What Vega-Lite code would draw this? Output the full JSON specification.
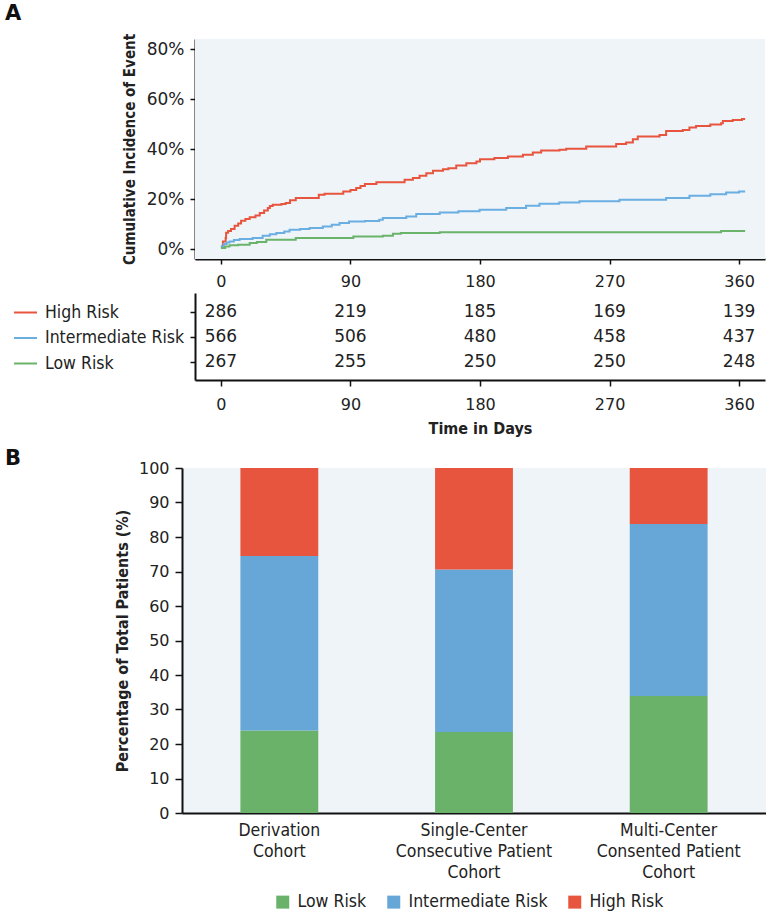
{
  "$schema": "https://vega.github.io/schema/vega-lite/v6.json",
  "padding": {"left": 5, "top": 3, "right": 0, "bottom": 0},
  "background": "white",
  "config": {
    "view": {"stroke": null},
    "axis": {"domainColor": "#111", "domainWidth": 2, "tickColor": "#111", "tickWidth": 1.5, "labelColor": "#222", "titleColor": "#222", "grid": false, "labelFont": "DejaVu Sans", "titleFont": "DejaVu Sans Condensed"},
    "legend": {"labelColor": "#222", "labelFont": "DejaVu Sans Condensed"},
    "title": {"color": "#111", "font": "DejaVu Sans", "fontWeight": "bold", "fontSize": 21}
  },
  "datasets": {
    "curves": [
      {"risk": "High Risk", "day": 0, "pct": 1.0}, {"risk": "High Risk", "day": 1.4, "pct": 3.0}, {"risk": "High Risk", "day": 3.3, "pct": 4.4}, {"risk": "High Risk", "day": 3.6, "pct": 6.5}, {"risk": "High Risk", "day": 5, "pct": 7.2}, {"risk": "High Risk", "day": 7, "pct": 8.0}, {"risk": "High Risk", "day": 9.5, "pct": 9.3}, {"risk": "High Risk", "day": 12, "pct": 10.2}, {"risk": "High Risk", "day": 14, "pct": 11.3}, {"risk": "High Risk", "day": 17, "pct": 12.0}, {"risk": "High Risk", "day": 20, "pct": 12.7}, {"risk": "High Risk", "day": 24, "pct": 13.4}, {"risk": "High Risk", "day": 27, "pct": 14.4}, {"risk": "High Risk", "day": 30, "pct": 15.4}, {"risk": "High Risk", "day": 32.6, "pct": 16.4}, {"risk": "High Risk", "day": 34, "pct": 17.2}, {"risk": "High Risk", "day": 36, "pct": 17.7}, {"risk": "High Risk", "day": 42, "pct": 18.0}, {"risk": "High Risk", "day": 45, "pct": 18.4}, {"risk": "High Risk", "day": 48, "pct": 19.5}, {"risk": "High Risk", "day": 52, "pct": 20.4}, {"risk": "High Risk", "day": 68, "pct": 21.7}, {"risk": "High Risk", "day": 72, "pct": 22.1}, {"risk": "High Risk", "day": 85, "pct": 23.0}, {"risk": "High Risk", "day": 90, "pct": 23.6}, {"risk": "High Risk", "day": 94, "pct": 24.4}, {"risk": "High Risk", "day": 97, "pct": 25.2}, {"risk": "High Risk", "day": 100, "pct": 26.0}, {"risk": "High Risk", "day": 108, "pct": 26.7}, {"risk": "High Risk", "day": 127.6, "pct": 27.7}, {"risk": "High Risk", "day": 133.4, "pct": 28.4}, {"risk": "High Risk", "day": 138, "pct": 29.3}, {"risk": "High Risk", "day": 142.7, "pct": 30.3}, {"risk": "High Risk", "day": 147.3, "pct": 31.3}, {"risk": "High Risk", "day": 154.3, "pct": 31.9}, {"risk": "High Risk", "day": 158, "pct": 32.3}, {"risk": "High Risk", "day": 163.5, "pct": 33.4}, {"risk": "High Risk", "day": 170.5, "pct": 34.3}, {"risk": "High Risk", "day": 177.5, "pct": 35.0}, {"risk": "High Risk", "day": 180, "pct": 35.9}, {"risk": "High Risk", "day": 190, "pct": 36.4}, {"risk": "High Risk", "day": 199.4, "pct": 37.0}, {"risk": "High Risk", "day": 209.8, "pct": 37.7}, {"risk": "High Risk", "day": 216.7, "pct": 38.6}, {"risk": "High Risk", "day": 222.5, "pct": 39.4}, {"risk": "High Risk", "day": 235.2, "pct": 39.7}, {"risk": "High Risk", "day": 239.9, "pct": 40.1}, {"risk": "High Risk", "day": 253.8, "pct": 41.0}, {"risk": "High Risk", "day": 274.6, "pct": 42.0}, {"risk": "High Risk", "day": 281.5, "pct": 42.6}, {"risk": "High Risk", "day": 286.2, "pct": 43.9}, {"risk": "High Risk", "day": 289.6, "pct": 45.0}, {"risk": "High Risk", "day": 304.7, "pct": 45.6}, {"risk": "High Risk", "day": 309.3, "pct": 47.2}, {"risk": "High Risk", "day": 320.9, "pct": 47.6}, {"risk": "High Risk", "day": 325.5, "pct": 48.6}, {"risk": "High Risk", "day": 330.1, "pct": 49.2}, {"risk": "High Risk", "day": 340, "pct": 49.8}, {"risk": "High Risk", "day": 347.5, "pct": 50.3}, {"risk": "High Risk", "day": 348.7, "pct": 51.2}, {"risk": "High Risk", "day": 355.6, "pct": 51.6}, {"risk": "High Risk", "day": 362, "pct": 52.0}, {"risk": "High Risk", "day": 364.2, "pct": 52.0},
      {"risk": "Intermediate Risk", "day": 0, "pct": 1.0}, {"risk": "Intermediate Risk", "day": 2, "pct": 2.0}, {"risk": "Intermediate Risk", "day": 4, "pct": 2.6}, {"risk": "Intermediate Risk", "day": 6, "pct": 3.0}, {"risk": "Intermediate Risk", "day": 9, "pct": 3.6}, {"risk": "Intermediate Risk", "day": 13, "pct": 4.0}, {"risk": "Intermediate Risk", "day": 22, "pct": 4.4}, {"risk": "Intermediate Risk", "day": 29, "pct": 5.3}, {"risk": "Intermediate Risk", "day": 34, "pct": 5.9}, {"risk": "Intermediate Risk", "day": 38.5, "pct": 6.4}, {"risk": "Intermediate Risk", "day": 44, "pct": 7.0}, {"risk": "Intermediate Risk", "day": 47.7, "pct": 7.7}, {"risk": "Intermediate Risk", "day": 55, "pct": 8.0}, {"risk": "Intermediate Risk", "day": 61.6, "pct": 8.4}, {"risk": "Intermediate Risk", "day": 70.8, "pct": 9.0}, {"risk": "Intermediate Risk", "day": 77, "pct": 9.7}, {"risk": "Intermediate Risk", "day": 82.4, "pct": 10.4}, {"risk": "Intermediate Risk", "day": 89, "pct": 11.0}, {"risk": "Intermediate Risk", "day": 100, "pct": 11.2}, {"risk": "Intermediate Risk", "day": 110, "pct": 11.7}, {"risk": "Intermediate Risk", "day": 112.5, "pct": 12.4}, {"risk": "Intermediate Risk", "day": 128.8, "pct": 13.0}, {"risk": "Intermediate Risk", "day": 135.7, "pct": 14.0}, {"risk": "Intermediate Risk", "day": 152, "pct": 14.6}, {"risk": "Intermediate Risk", "day": 165, "pct": 15.1}, {"risk": "Intermediate Risk", "day": 179.7, "pct": 15.7}, {"risk": "Intermediate Risk", "day": 198.2, "pct": 16.4}, {"risk": "Intermediate Risk", "day": 212, "pct": 17.3}, {"risk": "Intermediate Risk", "day": 221.3, "pct": 18.1}, {"risk": "Intermediate Risk", "day": 235, "pct": 18.6}, {"risk": "Intermediate Risk", "day": 249.1, "pct": 19.1}, {"risk": "Intermediate Risk", "day": 276.9, "pct": 19.7}, {"risk": "Intermediate Risk", "day": 309.3, "pct": 20.4}, {"risk": "Intermediate Risk", "day": 325.5, "pct": 21.3}, {"risk": "Intermediate Risk", "day": 340, "pct": 21.9}, {"risk": "Intermediate Risk", "day": 351, "pct": 22.6}, {"risk": "Intermediate Risk", "day": 360, "pct": 23.0}, {"risk": "Intermediate Risk", "day": 364.2, "pct": 23.0},
      {"risk": "Low Risk", "day": 0, "pct": 0.4}, {"risk": "Low Risk", "day": 3, "pct": 1.0}, {"risk": "Low Risk", "day": 6, "pct": 1.5}, {"risk": "Low Risk", "day": 12, "pct": 1.7}, {"risk": "Low Risk", "day": 20, "pct": 2.4}, {"risk": "Low Risk", "day": 25, "pct": 2.8}, {"risk": "Low Risk", "day": 31.5, "pct": 3.7}, {"risk": "Low Risk", "day": 52, "pct": 4.4}, {"risk": "Low Risk", "day": 92, "pct": 5.0}, {"risk": "Low Risk", "day": 112.5, "pct": 5.3}, {"risk": "Low Risk", "day": 119.5, "pct": 6.1}, {"risk": "Low Risk", "day": 125, "pct": 6.4}, {"risk": "Low Risk", "day": 152, "pct": 6.7}, {"risk": "Low Risk", "day": 347.5, "pct": 7.2}, {"risk": "Low Risk", "day": 364.2, "pct": 7.2}
    ],
    "atrisk": [
      {"risk": "High Risk", "day": 0, "n": 286}, {"risk": "High Risk", "day": 90, "n": 219}, {"risk": "High Risk", "day": 180, "n": 185}, {"risk": "High Risk", "day": 270, "n": 169}, {"risk": "High Risk", "day": 360, "n": 139},
      {"risk": "Intermediate Risk", "day": 0, "n": 566}, {"risk": "Intermediate Risk", "day": 90, "n": 506}, {"risk": "Intermediate Risk", "day": 180, "n": 480}, {"risk": "Intermediate Risk", "day": 270, "n": 458}, {"risk": "Intermediate Risk", "day": 360, "n": 437},
      {"risk": "Low Risk", "day": 0, "n": 267}, {"risk": "Low Risk", "day": 90, "n": 255}, {"risk": "Low Risk", "day": 180, "n": 250}, {"risk": "Low Risk", "day": 270, "n": 250}, {"risk": "Low Risk", "day": 360, "n": 248}
    ],
    "cohorts": [
      {"cohort": "Derivation Cohort", "risk": "Low Risk", "pct": 23.9},
      {"cohort": "Derivation Cohort", "risk": "Intermediate Risk", "pct": 50.6},
      {"cohort": "Derivation Cohort", "risk": "High Risk", "pct": 25.5},
      {"cohort": "Single-Center Consecutive Patient Cohort", "risk": "Low Risk", "pct": 23.5},
      {"cohort": "Single-Center Consecutive Patient Cohort", "risk": "Intermediate Risk", "pct": 47.1},
      {"cohort": "Single-Center Consecutive Patient Cohort", "risk": "High Risk", "pct": 29.4},
      {"cohort": "Multi-Center Consented Patient Cohort", "risk": "Low Risk", "pct": 33.9},
      {"cohort": "Multi-Center Consented Patient Cohort", "risk": "Intermediate Risk", "pct": 49.9},
      {"cohort": "Multi-Center Consented Patient Cohort", "risk": "High Risk", "pct": 16.2}
    ]
  },
  "resolve": {"scale": {"color": "independent"}, "legend": {"color": "independent"}},
  "spacing": 12,
  "vconcat": [
    {
      "resolve": {"scale": {"color": "independent"}, "legend": {"color": "independent"}},
      "spacing": 4,
      "vconcat": [
        {
          "width": 583,
          "height": 220,
          "title": {"text": "A", "anchor": "start", "frame": "group", "dx": -177, "offset": 9},
          "layer": [
            {
              "data": {"values": [{}]},
              "mark": {"type": "rect", "color": "#eff4f9"},
              "encoding": {
                "x": {"datum": -18, "type": "quantitative"},
                "x2": {"datum": 378},
                "y": {"datum": -4, "type": "quantitative"},
                "y2": {"datum": 84}
              }
            },
            {
              "data": {"name": "curves"},
              "mark": {"type": "line", "interpolate": "step-after", "strokeWidth": 2},
              "encoding": {
                "x": {"field": "day", "type": "quantitative"},
                "y": {"field": "pct", "type": "quantitative"},
                "color": {"field": "risk", "type": "nominal", "scale": {"domain": ["High Risk", "Intermediate Risk", "Low Risk"], "range": ["#e8553e", "#6aaee2", "#6ab36a"]}, "legend": null}
              }
            }
          ],
          "encoding": {
            "x": {"type": "quantitative", "scale": {"domain": [-18, 378], "rangeMin": 13, "nice": false, "zero": false}, "axis": {"values": [0, 90, 180, 270, 360], "title": null, "tickSize": 5, "labelFontSize": 16, "labelPadding": 9}},
            "y": {"type": "quantitative", "scale": {"domain": [-4, 84], "nice": false, "zero": false}, "axis": {"values": [0, 20, 40, 60, 80], "offset": -13, "labelExpr": "datum.value + '%'", "title": "Cumulative Incidence of Event", "titleFontSize": 15, "titleFontWeight": "bold", "titlePadding": 9, "tickSize": 5, "labelFontSize": 17, "labelPadding": 6}}
          }
        },
        {
          "width": 583,
          "height": 87,
          "data": {"name": "atrisk"},
          "encoding": {
            "x": {"field": "day", "type": "quantitative", "scale": {"domain": [-18, 378], "rangeMin": 13, "nice": false, "zero": false}, "axis": {"values": [0, 90, 180, 270, 360], "title": "Time in Days", "titleFontSize": 16, "titleFontWeight": "bold", "titlePadding": 8, "tickSize": 6, "labelFontSize": 16, "labelPadding": 10}},
            "y": {"field": "risk", "type": "ordinal", "scale": {"type": "point", "domain": ["High Risk", "Intermediate Risk", "Low Risk"], "padding": 0.74}, "axis": {"offset": -13, "labels": false, "title": null, "tickSize": 5}}
          },
          "layer": [
            {
              "mark": {"type": "text", "font": "DejaVu Sans", "fontSize": 17, "color": "#222"},
              "encoding": {"text": {"field": "n", "type": "quantitative"}}
            },
            {
              "mark": {"type": "line", "strokeOpacity": 0, "strokeWidth": 2},
              "encoding": {
                "color": {"field": "risk", "type": "nominal", "scale": {"domain": ["High Risk", "Intermediate Risk", "Low Risk"], "range": ["#e8553e", "#6aaee2", "#6ab36a"]},
                  "legend": {"orient": "left", "title": null, "offset": -10, "padding": 7, "symbolType": "stroke", "symbolSize": 529, "symbolStrokeWidth": 2, "symbolOpacity": 1, "labelFontSize": 17.5, "labelOffset": 7, "rowPadding": 4.5}}
              }
            }
          ]
        }
      ]
    },
    {
      "width": 584,
      "height": 345,
      "title": {"text": "B", "anchor": "start", "frame": "group", "dx": -177, "offset": -9},
      "view": {"fill": "#eff4f9", "stroke": null},
      "data": {"name": "cohorts"},
      "mark": {"type": "bar"},
      "encoding": {
        "x": {"field": "cohort", "type": "nominal", "sort": ["Derivation Cohort", "Single-Center Consecutive Patient Cohort", "Multi-Center Consented Patient Cohort"], "scale": {"paddingInner": 0.6, "paddingOuter": 0.3},
          "axis": {"title": null, "labelAngle": 0, "ticks": false, "labelFont": "DejaVu Sans Condensed", "labelFontSize": 17.5, "labelLineHeight": 21, "labelPadding": 8,
            "labelExpr": "datum.label == 'Derivation Cohort' ? ['Derivation', 'Cohort'] : datum.label == 'Single-Center Consecutive Patient Cohort' ? ['Single-Center', 'Consecutive Patient', 'Cohort'] : ['Multi-Center', 'Consented Patient', 'Cohort']"}},
        "y": {"field": "pct", "type": "quantitative", "stack": "zero", "scale": {"domain": [0, 100], "nice": false}, "axis": {"values": [0, 10, 20, 30, 40, 50, 60, 70, 80, 90, 100], "title": "Percentage of Total Patients (%)", "titleFontSize": 16, "titleFontWeight": 600, "titlePadding": 8, "tickSize": 7, "labelFontSize": 16, "labelPadding": 6}},
        "color": {"field": "risk", "type": "nominal", "scale": {"domain": ["Low Risk", "Intermediate Risk", "High Risk"], "range": ["#6ab26a", "#67a7d8", "#e8553e"]},
          "legend": {"orient": "none", "legendX": 92, "legendY": 425, "direction": "horizontal", "title": null, "symbolType": "square", "symbolSize": 169, "symbolStrokeWidth": 0, "labelFontSize": 17.5, "labelOffset": 6, "columnPadding": 18}},
        "order": {"field": "risk", "sort": "descending"}
      }
    }
  ]
}
